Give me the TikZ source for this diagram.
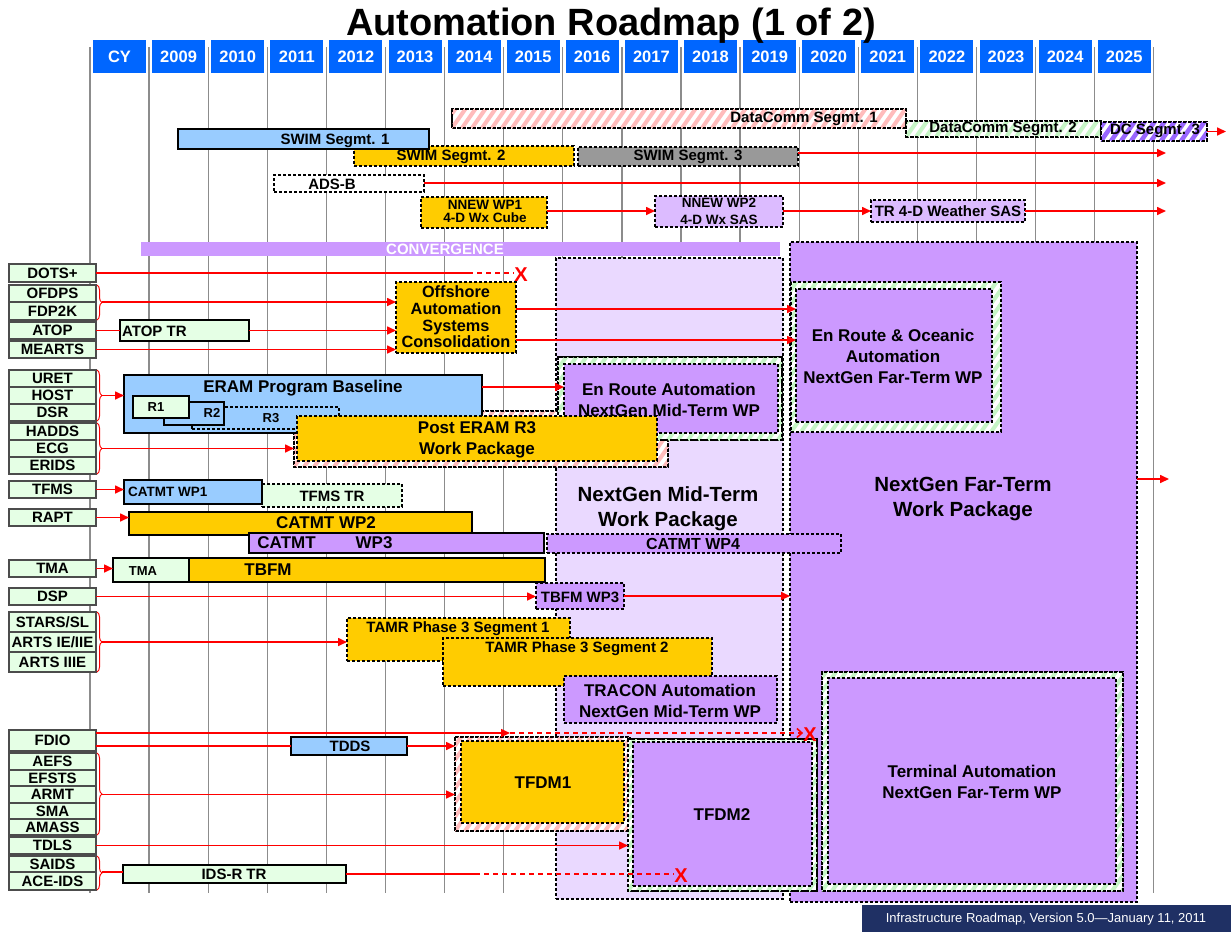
\documentclass[tikz,border=0pt]{standalone}
\usepackage{fontspec}
\setmainfont{Liberation Sans}
\usetikzlibrary{arrows.meta,fit,decorations.pathreplacing}
\definecolor{hdrblue}{HTML}{0066FF}
\definecolor{lblue}{HTML}{99CCFF}
\definecolor{gold}{HTML}{FFCC00}
\definecolor{purp}{HTML}{CC99FF}
\definecolor{lilac}{HTML}{DCBBFF}
\definecolor{lav}{HTML}{EAD9FF}
\definecolor{lgreen}{HTML}{E5FFE5}
\definecolor{midgray}{HTML}{999999}
\definecolor{pinkh}{HTML}{FFBCBC}
\definecolor{greenh}{HTML}{C6F5C6}
\definecolor{purph}{HTML}{9966FF}
\definecolor{navy}{HTML}{1F3064}

% stripes inside a node, then its dashed border again
\newcommand{\hatchfill}[3]{%
  \begin{scope}
    \clip (#1.north west) rectangle (#1.south east);
    \foreach \s in {0,10,...,720}
      \draw[#2, line width=#3] ([xshift={(\s-260)*1pt}]#1.south west) -- ++(260,-370);
  \end{scope}
  \draw[black, line width=1.1pt, dash pattern=on 3pt off 2pt] (#1.north west) rectangle (#1.south east);}

\begin{document}
\begin{tikzpicture}[x=1pt,y=-1pt,
    yline/.style={draw=black!45, line width=1.3pt},
    yr/.style={fill=hdrblue, text=white, font=\bfseries\fontsize{16.5}{17}\selectfont,
      minimum width=53pt, minimum height=33pt, inner sep=0pt},
    bx/.style={rectangle, inner sep=0pt, outer sep=0pt},
    sbar/.style={bx, draw=black, line width=2.6pt},
    dbar/.style={bx, draw=black, line width=1.1pt, dash pattern=on 3pt off 2pt},
    legacy/.style={bx, draw=black!70, line width=1.2pt, fill=lgreen, minimum width=87pt,
      anchor=north west, font=\bfseries\fontsize{15}{15}\selectfont},
    lbl/.style={inner sep=0pt, align=center, font=\bfseries\fontsize{15}{16}\selectfont},
    lbig/.style={lbl, font=\bfseries\fontsize{17}{21}\selectfont},
    lhuge/.style={lbl, font=\bfseries\fontsize{20.5}{25}\selectfont},
    lsmall/.style={lbl, font=\bfseries\fontsize{13.5}{13}\selectfont},
    conn/.style={draw=red, line width=1.6pt, -{Triangle[length=9pt,width=8pt]}},
    rline/.style={draw=red, line width=1.6pt},
    rdash/.style={rline, dash pattern=on 5pt off 4pt},
    brc/.style={draw=red, line width=1pt, decorate, decoration={brace, amplitude=5pt}},
    xmark/.style={text=red, font=\bfseries\fontsize{20}{20}\selectfont, inner sep=0pt}]
  \useasboundingbox (0,0) rectangle (1231,932);

  % year grid
  \foreach \i in {0,...,18}
    \draw[yline] (90+59.1*\i,47) -- (90+59.1*\i,893);
  \foreach \yrtxt [count=\i from 0] in {CY,2009,2010,2011,2012,2013,2014,2015,2016,2017,2018,2019,2020,2021,2022,2023,2024,2025}
    \node[yr] (hd\i) at (119.5+59.1*\i,56.5) {\yrtxt};

  \node[font=\bfseries\fontsize{38}{38}\selectfont, anchor=base] (title) at (611,35) {Automation Roadmap (1 of 2)};

  % DataComm
  \node[dbar, fill=white, fit={(452,109) (906,128)}] (dc1) {};
  \hatchfill{dc1}{pinkh}{4pt}
  \node[lbl] (dc1t) at (804,119) {DataComm Segmt. 1};
  \node[dbar, fill=white, fit={(906,121) (1101,137)}] (dc2) {};
  \hatchfill{dc2}{greenh}{4pt}
  \node[lbl] (dc2t) at (1003,129) {DataComm Segmt. 2};
  \node[dbar, fill=white, fit={(1101,122) (1207,141)}] (dc3) {};
  \hatchfill{dc3}{purph}{4.5pt}
  \node[lbl] (dc3t) at (1155,131) {DC Segmt. 3};
  \coordinate (dcend) at (1226,131.5);
  \draw[conn] (dc3.east) -- (dcend);

  % SWIM
  \node[dbar, fill=gold, fit={(354,146) (574,166)}] (swim2) {};
  \node[lbl] (swim2t) at (451,157) {SWIM Segmt. 2};
  \node[dbar, fill=midgray, fit={(578,147) (798,166)}] (swim3) {};
  \node[lbl] (swim3t) at (688,157) {SWIM Segmt. 3};
  \node[sbar, fill=lblue, fit={(178,129) (429,149)}] (swim1) {};
  \node[lbl] (swim1t) at (335,141) {SWIM Segmt. 1};
  \coordinate (swimend) at (1166,153);
  \draw[conn] (swim3.east |- swimend) -- (swimend);

  % ADS-B
  \node[dbar, fill=white, fit={(274,175) (424,192)}] (adsb) {};
  \node[lbl] (adsbt) at (332,184) {ADS-B};
  \coordinate (adsbend) at (1166,183);
  \draw[conn] (adsb.east |- adsbend) -- (adsbend);

  % NNEW
  \node[dbar, fill=gold, fit={(421,197) (547,228)}] (nnew1) {};
  \node[lsmall] (nnew1t) at (485,211) {NNEW WP1\\4-D Wx Cube};
  \node[dbar, fill=lilac, fit={(655,196) (783,227)}] (nnew2) {};
  \node[lsmall, font=\bfseries\fontsize{13.5}{17}\selectfont] (nnew2t) at (719,211.5) {NNEW WP2\\4-D Wx SAS};
  \node[dbar, fill=lilac, fit={(871,200) (1025,222)}] (tr4d) {};
  \node[lbl] (tr4dt) at (948,211) {TR 4-D Weather SAS};
  \coordinate (wxend) at (1166,211);
  \draw[conn] (nnew1.east |- wxend) -- (nnew2.west |- wxend);
  \draw[conn] (nnew2.east |- wxend) -- (tr4d.west |- wxend);
  \draw[conn] (tr4d.east |- wxend) -- (wxend);

  % convergence
  \node[bx, fill=purp, fit={(141,242) (780,256)}] (conv) {};
  \node[lbl, text=white] (convt) at (445,249) {CONVERGENCE};

  % work packages
  \node[dbar, fill=purp, fit={(790,242) (1137,902)}] (far) {};
  \node[lhuge] (fart) at (963,499.5) {NextGen Far-Term\\Work Package};
  \coordinate (farend) at (1169,479);
  \draw[conn] (far.east |- farend) -- (farend);
  \node[dbar, fill=lav, fit={(556,258) (783,899)}] (mid) {};
  \node[lhuge] (midt) at (668,508.5) {NextGen Mid-Term\\Work Package};

  \node[dbar, fill=white, fit={(294,411) (668,467)}] (pef) {};
  \hatchfill{pef}{pinkh}{4pt}
  \node[dbar, fill=white, fit={(791,282) (1001,432)}] (eof) {};
  \hatchfill{eof}{greenh}{4pt}
  \node[dbar, fill=purp, fit={(796,289) (992,422)}] (eo) {};
  \node[lbig] (eot) at (893,356) {En Route \& Oceanic\\Automation\\NextGen Far-Term WP};

  % ERAM
  \node[sbar, fill=lblue, fit={(124,375) (482,433)}] (eram) {};
  \node[lbig] (eramt) at (303,388) {ERAM Program Baseline};
  \node[dbar, fill=lblue, fit={(192,407) (339,429)}] (r3) {};
  \node[lbl, font=\bfseries\fontsize{13}{13}\selectfont] (r3t) at (271,418) {R3};
  \node[sbar, line width=2.2pt, fill=lblue, fit={(164,402) (224,425)}] (r2) {};
  \node[lbl, font=\bfseries\fontsize{13}{13}\selectfont] (r2t) at (212,413) {R2};
  \node[sbar, line width=2.2pt, fill=lgreen, fit={(133,396) (189,418)}] (r1) {};
  \node[lbl, font=\bfseries\fontsize{13}{13}\selectfont] (r1t) at (156,407) {R1};

  \node[dbar, fill=white, fit={(558,357) (782,440)}] (emf) {};
  \hatchfill{emf}{greenh}{4pt}
  \node[dbar, fill=purp, fit={(564,364) (778,433)}] (em) {};
  \node[lbig] (emt) at (669,399.5) {En Route Automation\\NextGen Mid-Term WP};

  \node[dbar, fill=gold, fit={(297,416) (657,461)}] (pe) {};
  \node[lbig] (pet) at (477,439.5) {Post ERAM R3\\Work Package};

  \node[dbar, fill=gold, fit={(396,282) (516,353)}] (osc) {};
  \node[lbl, font=\bfseries\fontsize{16.3}{16.7}\selectfont] (osct) at (456,317) {Offshore\\Automation\\Systems\\Consolidation};

  \node[sbar, fill=lgreen, fit={(120,320) (249,341)}] (atoptr) {};
  \node[lbl, anchor=west] (atoptrt) at (122,331) {ATOP TR};

  % CATMT / TBFM
  \node[dbar, fill=lgreen, fit={(262,484) (402,507)}] (tfmstr) {};
  \node[lbl] (tfmstrt) at (332,496) {TFMS TR};
  \node[sbar, fill=lblue, fit={(124,480) (262,504)}] (cat1) {};
  \node[lsmall, anchor=west] (cat1t) at (128,492) {CATMT WP1};
  \node[sbar, fill=gold, fit={(129,512) (472,535)}] (cat2) {};
  \node[lbig] (cat2t) at (326,523) {CATMT WP2};
  \node[sbar, fill=purp, fit={(249,533) (544,553)}] (cat3) {};
  \node[lbig] (cat3t) at (325,543) {CATMT\hspace{40pt}WP3};
  \node[dbar, fill=purp, fit={(547,534) (841,553)}] (cat4) {};
  \node[lbl, font=\bfseries\fontsize{16}{16}\selectfont] (cat4t) at (693,544) {CATMT WP4};
  \node[sbar, fill=lgreen, fit={(113,558) (189,582)}] (tmab) {};
  \node[lbl, font=\bfseries\fontsize{13}{13}\selectfont] (tmabt) at (143,571) {TMA};
  \node[sbar, fill=gold, fit={(189,558) (545,582)}] (tbfm) {};
  \node[lbig] (tbfmt) at (268,570) {TBFM};
  \node[dbar, fill=purp, fit={(536,583) (624,609)}] (tbfm3) {};
  \node[lbl] (tbfm3t) at (580,597) {TBFM WP3};

  % terminal
  \node[dbar, fill=gold, fit={(347,618) (570,661)}] (tamr1) {};
  \node[lbl] (tamr1t) at (458,629) {TAMR Phase 3 Segment 1};
  \node[dbar, fill=gold, fit={(443,638) (712,686)}] (tamr2) {};
  \node[lbl] (tamr2t) at (577,649) {TAMR Phase 3 Segment 2};
  \node[dbar, fill=purp, fit={(564,676) (777,723)}] (tracon) {};
  \node[lbig] (tracont) at (670,700.5) {TRACON Automation\\NextGen Mid-Term WP};
  \node[dbar, fill=white, fit={(822,672) (1123,891)}] (taf) {};
  \hatchfill{taf}{greenh}{4pt}
  \node[dbar, fill=purp, fit={(828,678) (1116,884)}] (ta) {};
  \node[lbig] (tat) at (972,781.5) {Terminal Automation\\NextGen Far-Term WP};

  \node[sbar, fill=lblue, fit={(291,737) (407,755)}] (tdds) {};
  \node[lbl] (tddst) at (350,746) {TDDS};
  \node[dbar, fill=white, fit={(455,737) (630,831)}] (tf1f) {};
  \hatchfill{tf1f}{pinkh}{4pt}
  \node[dbar, fill=gold, fit={(461,741) (624,823)}] (tf1) {};
  \node[lbig] (tf1t) at (543,783) {TFDM1};
  \node[dbar, fill=white, fit={(628,739) (817,891)}] (tf2f) {};
  \hatchfill{tf2f}{greenh}{4pt}
  \node[dbar, fill=purp, fit={(633,742) (812,886)}] (tf2) {};
  \node[lbig] (tf2t) at (722,815) {TFDM2};
  \node[sbar, fill=lgreen, fit={(123,865) (346,883)}] (idsr) {};
  \node[lbl] (idsrt) at (234,874) {IDS-R TR};

  % legacy systems
  \foreach \nm/\ya/\yb/\txt in {dots/264/282/{DOTS+}, ofdps/285/302/{OFDPS}, fdp/302/320/{FDP2K},
      atop/322/339/{ATOP}, mearts/341/358/{MEARTS}, uret/370/387/{URET}, host/387/404/{HOST},
      dsr/404/421/{DSR}, hadds/423/440/{HADDS}, ecg/440/457/{ECG}, erids/457/474/{ERIDS},
      tfms/481/498/{TFMS}, rapt/509/526/{RAPT}, tma/560/577/{TMA}, dsp/588/605/{DSP},
      stars/612/632/{STARS/SL}, artsa/632/652/{ARTS IE/IIE}, artsb/652/672/{ARTS IIIE},
      fdio/730/751/{FDIO}, aefs/753/770/{AEFS}, efsts/770/786/{EFSTS}, armt/786/803/{ARMT},
      sma/803/819/{SMA}, amass/819/835/{AMASS}, tdls/837/854/{TDLS}, saids/856/872/{SAIDS},
      aceids/872/890/{ACE-IDS}}
    \node[legacy, minimum height={(\yb-\ya)*1pt}] (\nm) at (9,\ya) {\txt};

  % braces
  \draw[brc] ([xshift=1pt]ofdps.north east) -- ([xshift=1pt]fdp.south east);
  \draw[brc] ([xshift=1pt]uret.north east) -- ([xshift=1pt]dsr.south east);
  \draw[brc] ([xshift=1pt]hadds.north east) -- ([xshift=1pt]erids.south east);
  \draw[brc] ([xshift=1pt]stars.north east) -- ([xshift=1pt]artsb.south east);
  \draw[brc] ([xshift=1pt]aefs.north east) -- ([xshift=1pt]amass.south east);
  \draw[brc] ([xshift=1pt]saids.north east) -- ([xshift=1pt]aceids.south east);

  % connectors
  \coordinate (dotsend) at (468,273);
  \node[xmark] (xdots) at (521,275) {X};
  \draw[rline] (dots.east) -- (dotsend);
  \draw[rdash] (dotsend) -- (xdots.west |- dotsend);
  \draw[conn] ([xshift=6pt]ofdps.south east) -- (osc.west |- ofdps.south east);
  \draw[rline] (atop.east) -- (atoptr.west |- atop.east);
  \draw[conn] (atoptr.east) -- (osc.west |- atoptr.east);
  \draw[conn] (mearts.east) -- (osc.west |- mearts.east);
  \draw[conn] (osc.east |- 0,309) -- (eo.west |- 0,309);
  \draw[conn] (osc.east |- 0,340) -- (eo.west |- 0,340);
  \draw[conn] ([xshift=6pt]host.east) -- (eram.west |- host.east);
  \draw[conn] (eram.east |- 0,387) -- (em.west |- 0,387);
  \draw[conn] ([xshift=6pt]ecg.east) -- (pef.west |- ecg.east);
  \draw[conn] (tfms.east) -- (cat1.west |- tfms.east);
  \draw[conn] (rapt.east) -- (cat2.west |- rapt.east);
  \draw[conn] (tma.east) -- (tmab.west |- tma.east);
  \draw[conn] (dsp.east) -- (tbfm3.west |- dsp.east);
  \draw[conn] (tbfm3.east) -- (far.west |- tbfm3.east);
  \draw[conn] ([xshift=6pt]artsa.east) -- (tamr1.west |- artsa.east);
  \coordinate (fdiomid) at (510,733);
  \node[xmark] (xfdio) at (810,735) {X};
  \draw[conn] (fdio.east |- fdiomid) -- (fdiomid);
  \draw[rdash, -{Straight Barb[length=5pt,width=9pt]}] (fdiomid) -- (xfdio.west |- fdiomid);
  \draw[rline] (fdio.east |- tdds.west) -- (tdds.west);
  \draw[conn] (tdds.east) -- (tf1f.west |- tdds.east);
  \draw[conn] ([xshift=6pt]armt.east) -- (tf1f.west |- armt.east);
  \draw[conn] (tdls.east) -- (tf2f.west |- tdls.east);
  \draw[rline] ([xshift=6pt]saids.south east) -- (idsr.west |- saids.south east);
  \coordinate (idsmid) at (475,874);
  \node[xmark] (xids) at (681,876) {X};
  \draw[rline] (idsr.east) -- (idsmid);
  \draw[rdash] (idsmid) -- (xids.west |- idsmid);

  % footer
  \node[bx, fill=navy, fit={(862,905) (1231,932)}] (foot) {};
  \node[text=white, inner sep=0pt, font=\fontsize{13}{13}\selectfont] (foott) at (1046,919) {Infrastructure Roadmap, Version 5.0---January 11, 2011};
\end{tikzpicture}
\end{document}
